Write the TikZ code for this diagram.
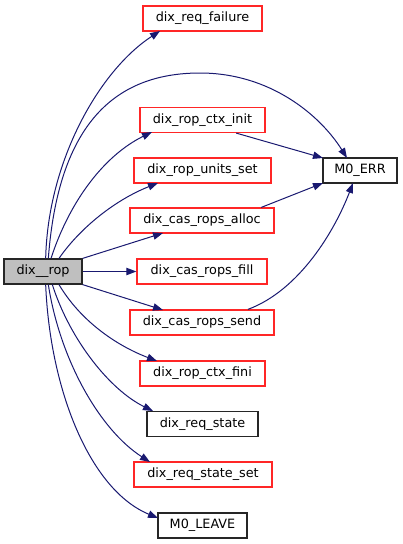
\documentclass[tikz,border=0pt]{standalone}
\usepackage{fontspec}
\setmainfont{DejaVu Sans}
\usetikzlibrary{arrows.meta}
\definecolor{edgecol}{HTML}{191970}
\definecolor{redb}{HTML}{FF0000}
\definecolor{greyf}{HTML}{BFBFBF}
\tikzset{
  fn/.style={draw, line width=0.9pt, minimum height=18.75pt, inner sep=0pt, font=\fontsize{9.6pt}{11pt}\selectfont, fill=white},
  redbox/.style={fn, draw=redb!85},
  blkbox/.style={fn, draw=black!85},
  rootbox/.style={fn, draw=black!85, fill=greyf},
  call/.style={draw=edgecol, line width=0.75pt, -{Triangle[length=7.5pt,width=5.5pt]}},
}
\begin{document}
\begin{tikzpicture}[x=0.75pt,y=-0.75pt]
\useasboundingbox (0,0) rectangle (403,544);
\node[rootbox, minimum width=58.5pt] (rop) at (43,271.5) {dix\_\_rop};
\node[redbox, minimum width=89.25pt] (failure) at (202.5,18.5) {dix\_req\_failure};
\node[redbox, minimum width=93.75pt] (ctxinit) at (202.5,120) {dix\_rop\_ctx\_init};
\node[redbox, minimum width=102.75pt] (units) at (202.5,170.5) {dix\_rop\_units\_set};
\node[redbox, minimum width=108pt] (alloc) at (202,220.5) {dix\_cas\_rops\_alloc};
\node[redbox, minimum width=97.5pt] (fill) at (202,271.5) {dix\_cas\_rops\_fill};
\node[redbox, minimum width=108pt] (send) at (202,322.5) {dix\_cas\_rops\_send};
\node[redbox, minimum width=93.75pt] (fini) at (202.5,373.5) {dix\_rop\_ctx\_fini};
\node[blkbox, minimum width=83.25pt] (state) at (202.5,424) {dix\_req\_state};
\node[redbox, minimum width=103.5pt] (stateset) at (203,474.5) {dix\_req\_state\_set};
\node[blkbox, minimum width=66.75pt] (leave) at (202.5,525.5) {M0\_LEAVE};
\node[blkbox, minimum width=55.5pt] (err) at (360,170.5) {M0\_ERR};

\coordinate (f1) at (160,31);
\coordinate (e1) at (347,158);
\coordinate (c1) at (152,132);
\coordinate (u1) at (158,183);
\coordinate (a1) at (163,233);
\coordinate (s1) at (163,310);
\coordinate (fi1) at (157,361);
\coordinate (st1) at (153,411);
\coordinate (ss1) at (150,462);
\coordinate (lv1) at (158,518);
\coordinate (ce) at (323,158);
\coordinate (ae) at (323,183);
\coordinate (se) at (353,183);

\draw[call] ([xshift=2]rop.north) .. controls (48,160) and (100,70) .. (f1);
\draw[call] ([xshift=4]rop.north) .. controls (58,130) and (110,73) .. (200,73) .. controls (270,73) and (320,115) .. (e1);
\draw[call] ([xshift=6]rop.north) .. controls (70,200) and (105,155) .. (c1);
\draw[call] ([xshift=12]rop.north) .. controls (80,228) and (115,200) .. (u1);
\draw[call] (rop.north east) -- (a1);
\draw[call] (rop.east) -- (fill.west);
\draw[call] (rop.south east) -- (s1);
\draw[call] ([xshift=12]rop.south) .. controls (80,320) and (115,345) .. (fi1);
\draw[call] ([xshift=7]rop.south) .. controls (70,340) and (110,390) .. (st1);
\draw[call] ([xshift=4]rop.south) .. controls (60,360) and (100,430) .. (ss1);
\draw[call] ([xshift=2]rop.south) .. controls (50,390) and (90,490) .. (lv1);
\draw[call] ([xshift=-22]ctxinit.south east) -- (ce);
\draw[call] ([xshift=-10]alloc.north east) -- (ae);
\draw[call] ([xshift=-20]send.north east) .. controls (300,290) and (335,230) .. (se);
\end{tikzpicture}
\end{document}
